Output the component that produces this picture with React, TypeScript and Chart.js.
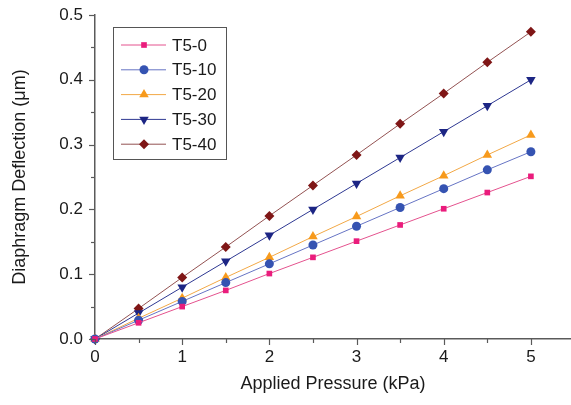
import React, { useEffect, useRef } from "react";
import { Chart, registerables } from "chart.js";
import { drawPoint } from "chart.js/helpers";

Chart.register(...registerables);

const pressure = [0, 0.5, 1, 1.5, 2, 2.5, 3, 3.5, 4, 4.5, 5];
const seriesNames = ["T5-0", "T5-10", "T5-20", "T5-30", "T5-40"];
const t50 = [0, 0.025, 0.05, 0.075, 0.101, 0.126, 0.151, 0.176, 0.201, 0.226, 0.251];
const t510 = [0, 0.029, 0.058, 0.087, 0.116, 0.145, 0.174, 0.203, 0.232, 0.261, 0.289];
const t520 = [0, 0.032, 0.063, 0.095, 0.126, 0.158, 0.189, 0.221, 0.252, 0.284, 0.315];
const t530 = [0, 0.04, 0.08, 0.12, 0.16, 0.2, 0.24, 0.28, 0.32, 0.36, 0.4];
const t540 = [0, 0.047, 0.095, 0.142, 0.19, 0.237, 0.284, 0.332, 0.379, 0.427, 0.474];
const xTickLabels = [0, 1, 2, 3, 4, 5];
const yTickLabels = [0, 0.1, 0.2, 0.3, 0.4, 0.5];

const values = [t50, t510, t520, t530, t540];
const markerColors = ["#ea1c7c", "#3553b2", "#f79a1c", "#1c2584", "#7f1616"];
const lineColors = ["#e4528e", "#6674c4", "#f2a846", "#2e3892", "#935252"];
const pointStyles = ["rect", "circle", "triangle", "triangle", "rectRot"];
const rotations = [0, 0, 0, 180, 0];
const radii = [4, 4.5, 5.5, 5.5, 5];

const FONT = "'Liberation Sans', Arial, sans-serif";
const TEXT = "#1a1a1a";
const AXIS = "#5a5a5a";

const tickPlugin = {
  id: "customTicks",
  afterDraw(chart: any) {
    const ctx = chart.ctx;
    const xs = chart.scales.x;
    const ys = chart.scales.y;
    const area = chart.chartArea;
    ctx.save();
    ctx.strokeStyle = AXIS;
    ctx.lineWidth = 1.2;
    for (let i = 0; i <= 10; i++) {
      const v = i * 0.5;
      const px = Math.round(xs.getPixelForValue(v)) + 0.5;
      const len = i % 2 === 0 ? 6 : 4;
      ctx.beginPath();
      ctx.moveTo(px, area.bottom);
      ctx.lineTo(px, area.bottom + len);
      ctx.stroke();
    }
    for (let i = 0; i <= 10; i++) {
      const v = i * 0.05;
      const py = Math.round(ys.getPixelForValue(v)) + 0.5;
      const len = i % 2 === 0 ? 6 : 4;
      ctx.beginPath();
      ctx.moveTo(area.left, py);
      ctx.lineTo(area.left - len, py);
      ctx.stroke();
    }
    ctx.restore();
  },
};

const legendPlugin = {
  id: "insideLegend",
  afterDraw(chart: any) {
    const ctx = chart.ctx;
    const area = chart.chartArea;
    const left = area.left + 18;
    const top = area.top + 12;
    const w = 113;
    const h = 132;
    ctx.save();
    ctx.fillStyle = "#ffffff";
    ctx.fillRect(left, top, w, h);
    ctx.strokeStyle = "#555555";
    ctx.lineWidth = 1;
    ctx.strokeRect(left + 0.5, top + 0.5, w, h);
    chart.data.datasets.forEach((ds: any, i: number) => {
      const cy = top + 18 + i * 24.8;
      ctx.strokeStyle = ds.borderColor;
      ctx.lineWidth = 1;
      ctx.beginPath();
      ctx.moveTo(left + 8, cy);
      ctx.lineTo(left + 53, cy);
      ctx.stroke();
      ctx.fillStyle = ds.pointBackgroundColor;
      ctx.strokeStyle = ds.pointBorderColor;
      drawPoint(ctx, { pointStyle: ds.pointStyle, rotation: ds.pointRotation, radius: ds.pointRadius, borderWidth: 0 }, left + 31, cy);
      ctx.fillStyle = TEXT;
      ctx.font = `17px ${FONT}`;
      ctx.textBaseline = "middle";
      ctx.textAlign = "left";
      ctx.fillText(ds.label, left + 59, cy + 1);
    });
    ctx.restore();
  },
};

export default function App() {
  const ref = useRef<HTMLCanvasElement>(null);
  useEffect(() => {
    document.body.style.margin = "0";
    const datasets = seriesNames.map((name, i) => ({
      label: name,
      data: pressure.map((p, j) => ({ x: p, y: values[i][j] })),
      showLine: true,
      borderColor: lineColors[i],
      borderWidth: 1,
      pointStyle: pointStyles[i],
      pointRotation: rotations[i],
      pointRadius: radii[i],
      pointBackgroundColor: markerColors[i],
      pointBorderColor: markerColors[i],
      pointBorderWidth: 0,
      clip: false,
    }));
    const chart = new Chart(ref.current as HTMLCanvasElement, {
      type: "scatter",
      data: { datasets },
      plugins: [tickPlugin, legendPlugin],
      options: {
        animation: false,
        responsive: true,
        maintainAspectRatio: false,
        layout: { autoPadding: false, padding: { top: 15, right: 0, left: 0, bottom: 0 } },
        plugins: { legend: { display: false }, tooltip: { enabled: false } },
        scales: {
          x: {
            type: "linear",
            min: 0,
            max: 5.46,
            afterBuildTicks: (s: any) => {
              s.ticks = xTickLabels.map((v) => ({ value: v }));
            },
            afterFit: (s: any) => {
              s.height = 66;
              s.paddingRight = 0;
              s.paddingLeft = 0;
            },
            grid: { display: false, drawTicks: false },
            border: { display: true, color: AXIS, width: 1.5 },
            ticks: {
              padding: 8,
              color: TEXT,
              font: { family: FONT, size: 17 },
              callback: (v: any) => String(v),
            },
            title: {
              display: true,
              text: "Applied Pressure (kPa)",
              color: TEXT,
              font: { family: FONT, size: 18 },
              padding: { top: 0, bottom: 10 },
            },
          },
          y: {
            type: "linear",
            min: 0,
            max: 0.5,
            afterBuildTicks: (s: any) => {
              s.ticks = yTickLabels.map((v) => ({ value: v }));
            },
            afterFit: (s: any) => {
              s.width = 95;
              s.paddingTop = 0;
              s.paddingBottom = 0;
            },
            grid: { display: false, drawTicks: false },
            border: { display: true, color: AXIS, width: 1.5 },
            ticks: {
              padding: 12,
              color: TEXT,
              font: { family: FONT, size: 17 },
              callback: (v: any) => Number(v).toFixed(1),
            },
            title: {
              display: true,
              text: "Diaphragm Deflection (\u03bcm)",
              color: TEXT,
              font: { family: FONT, size: 18 },
              padding: { top: 9, bottom: 0 },
            },
          },
        },
      },
    });
    return () => chart.destroy();
  }, []);
  return (
    <div style={{ position: "fixed", left: 0, top: 0, width: 571, height: 405, background: "#fff" }}>
      <canvas ref={ref} />
    </div>
  );
}
